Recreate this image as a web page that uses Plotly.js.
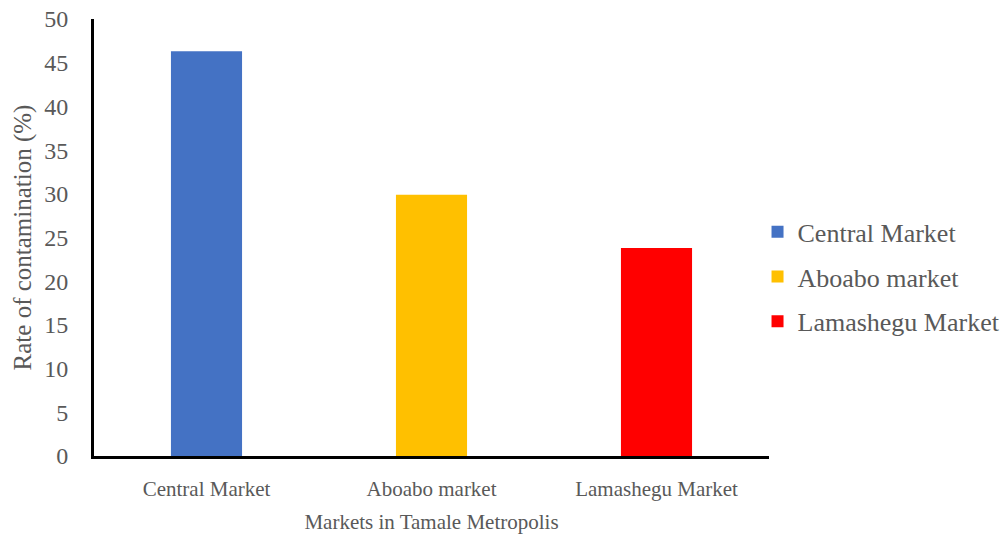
<!DOCTYPE html>
<html><head><meta charset="utf-8">
<script src="https://cdn.plot.ly/plotly-3.0.1.min.js"></script>
<style>html,body{margin:0;padding:0;background:#fff}#chart{width:1003px;height:538px}</style>
</head><body><div id="chart"></div>
<script>
const categories = ["Central Market", "Aboabo market", "Lamashegu Market"];
const values = [46.3, 29.9, 23.8];
const colors = ["#4472C4", "#FFC000", "#FF0000"];
const yTicks = [0, 5, 10, 15, 20, 25, 30, 35, 40, 45, 50];

const fam = "Liberation Serif, DejaVu Serif, serif";
const grey = "#595959";

const traces = categories.map((c, i) => ({
  type: "bar",
  name: c,
  x: [c],
  y: [values[i]],
  width: 0.316,
  marker: {color: colors[i]},
  legendgroup: "g" + i,
  hoverinfo: "x+y"
}));

const layout = {
  width: 1003, height: 538,
  margin: {l: 94, r: 234, t: 19, b: 82, autoexpand: false},
  paper_bgcolor: "#fff", plot_bgcolor: "#fff",
  font: {family: fam, color: grey, size: 21},
  barmode: "overlay",
  showlegend: true,
  legend: {x: 0.983, xanchor: "left", y: 0.41, yanchor: "middle",
           font: {family: fam, color: grey, size: 26},
           tracegroupgap: 8, itemwidth: 30, bgcolor: "rgba(0,0,0,0)"},
  xaxis: {
    type: "category", categoryorder: "array", categoryarray: categories,
    range: [-0.5, 2.5],
    showline: true, linecolor: "#000", linewidth: 3,
    ticks: "", showgrid: false, zeroline: false,
    ticklabelstandoff: 12,
    tickfont: {family: fam, color: grey, size: 21},
    title: {text: "Markets in Tamale Metropolis", font: {family: fam, color: grey, size: 21}, standoff: 15}
  },
  yaxis: {
    range: [0, 50], tickvals: yTicks, ticktext: yTicks.map(String),
    showline: true, linecolor: "#000", linewidth: 3,
    ticks: "", showgrid: false, zeroline: false,
    ticklabelstandoff: 18,
    tickfont: {family: fam, color: grey, size: 24},
    title: {text: "Rate of contamination (%)", font: {family: fam, color: grey, size: 25}, standoff: 6}
  }
};

Plotly.newPlot("chart", traces, layout, {displayModeBar: false, responsive: false});
</script>
</body></html>
